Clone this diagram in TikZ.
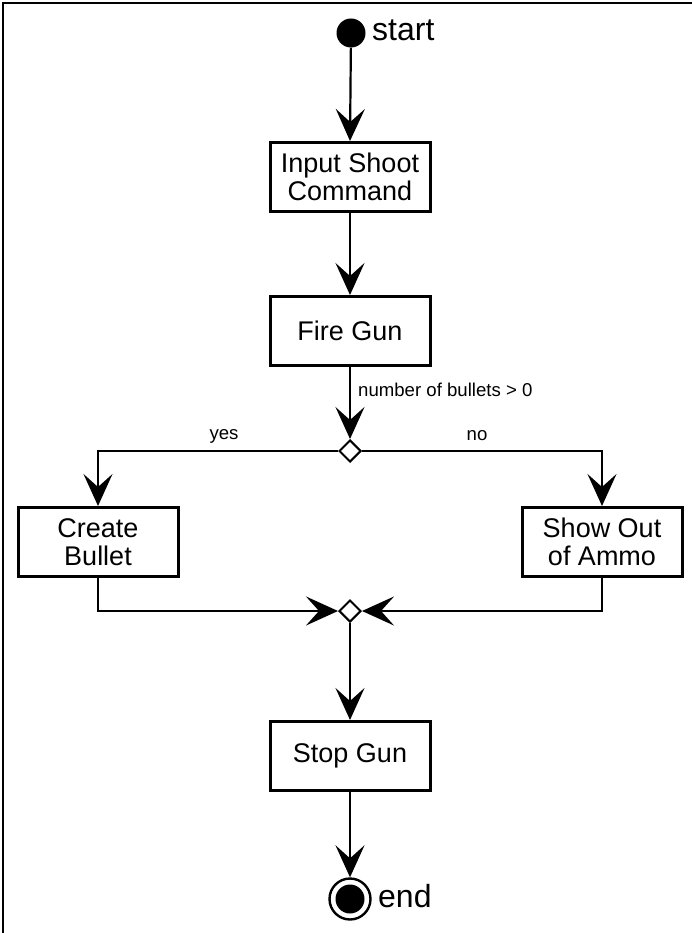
\documentclass[tikz,border=0pt]{standalone}
\usepackage{fontspec}
\setmainfont{Liberation Sans}
\usetikzlibrary{arrows.meta,shapes.geometric}
\begin{document}
\begin{tikzpicture}[x=1pt,y=-1pt,
  action/.style={draw,line width=3pt,minimum width=160pt,minimum height=69pt,
    inner sep=0pt,align=center,font=\fontsize{27}{28}\selectfont},
  choice/.style={draw,diamond,line width=2pt,fill=white,minimum width=22pt,
    minimum height=22pt,inner sep=0pt},
  flow/.style={line width=2.2pt,-{Stealth[length=32pt,width=29pt,inset=13pt]}},
  guard/.style={font=\fontsize{18.6}{20}\selectfont,inner sep=0pt},
  tag/.style={font=\fontsize{32}{34}\selectfont,inner sep=0pt,anchor=west}]
\useasboundingbox (0,0) rectangle (692,933);
% outer frame
\draw[line width=2.8pt] (3,933) -- (3,3) -- (692,3);
% start and end states
\node[circle,fill=black,minimum size=29pt,inner sep=0pt] (start) at (351,33) {};
\node[tag] (startlbl) at (372,30) {start};
\node[circle,draw,line width=2.4pt,minimum size=41pt,inner sep=0pt] (end) at (350,899) {};
\node[circle,fill=black,minimum size=29pt,inner sep=0pt] (endcore) at (350,899) {};
\node[tag] (endlbl) at (378,896) {end};
% actions
\node[action] (input) at (350,177) {Input Shoot\\Command};
\node[action] (fire) at (350,331) {Fire Gun};
\node[action] (create) at (98,542) {Create\\Bullet};
\node[action] (ammo) at (602,542) {Show Out\\of Ammo};
\node[action] (stop) at (350,756) {Stop Gun};
% decision and merge
\node[choice] (dec) at (350,451) {};
\node[choice] (merge) at (350,611) {};
% connectors
\draw[flow] (start) -- (input.north);
\draw[flow] (input.south) -- (fire.north);
\draw[flow] (fire.south) -- (dec.north);
\node[guard,anchor=west] (cond) at (358,390) {number of bullets > 0};
\draw[flow] (dec.west) -| (create.north);
\draw[flow] (dec.east) -| (ammo.north);
\node[guard] (yes) at (224,436) {yes};
\node[guard] (no) at (477,436) {no};
\draw[flow] (create.south) |- (merge.west);
\draw[flow] (ammo.south) |- (merge.east);
\draw[flow] (merge.south) -- (stop.north);
\draw[flow] (stop.south) -- (end.north);
\end{tikzpicture}
\end{document}
